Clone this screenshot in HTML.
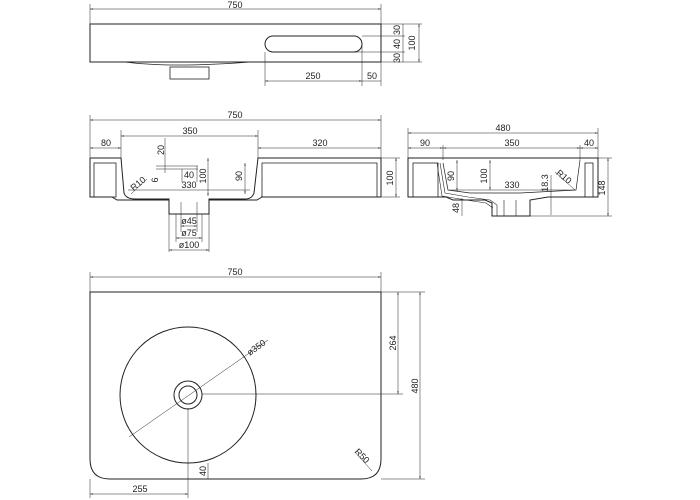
<!DOCTYPE html>
<html><head><style>body{margin:0;background:#fff}svg{display:block}</style></head><body>
<svg width="700" height="500" viewBox="0 0 700 500" xmlns="http://www.w3.org/2000/svg" font-family="Liberation Sans, sans-serif" font-size="9" fill="none" stroke="#222">
<defs><marker id="a" viewBox="0 0 10 10" refX="10" refY="5" markerWidth="6" markerHeight="6" orient="auto-start-reverse"><path d="M0,3L10,5L0,7" fill="#222" stroke="none"/></marker></defs>
<g stroke-width="0.5">
<!-- top view dims -->
<line x1="90" y1="4" x2="90" y2="24"/><line x1="381" y1="4" x2="381" y2="24"/>
<line x1="90" y1="9" x2="381" y2="9" marker-start="url(#a)" marker-end="url(#a)"/>
<line x1="265" y1="52" x2="265" y2="86"/><line x1="362" y1="45" x2="362" y2="86"/>
<line x1="265" y1="81" x2="362" y2="81" marker-start="url(#a)" marker-end="url(#a)"/>
<line x1="362" y1="81" x2="381" y2="81"/><line x1="381" y1="62" x2="381" y2="86"/>
<line x1="362" y1="36" x2="405" y2="36"/><line x1="340" y1="52" x2="405" y2="52"/>
<line x1="381" y1="24" x2="422" y2="24"/><line x1="381" y1="62" x2="422" y2="62"/>
<line x1="403" y1="24" x2="403" y2="62"/>
<line x1="419" y1="24" x2="419" y2="62" marker-start="url(#a)" marker-end="url(#a)"/>
</g>
<g fill="#222" stroke="none" text-anchor="middle">
<text x="235" y="8">750</text><text x="313" y="79">250</text><text x="372" y="79">50</text>
<text transform="translate(400,30) rotate(-90)">30</text>
<text transform="translate(400,44) rotate(-90)">40</text>
<text transform="translate(400,58) rotate(-90)">30</text>
<text transform="translate(415,43) rotate(-90)">100</text>
</g>
<rect x="90" y="24" width="291" height="38" stroke-width="1"/>
<rect x="265" y="36" width="97" height="16" rx="8" stroke-width="1"/>
<path d="M125,62 Q170,68 250,62" stroke-width="0.8"/>
<rect x="170" y="67" width="39" height="12" stroke-width="0.8"/>

<!-- front view -->
<g stroke-width="0.5">
<line x1="90" y1="115" x2="90" y2="158"/><line x1="381" y1="115" x2="381" y2="158"/>
<line x1="90" y1="120" x2="381" y2="120" marker-start="url(#a)" marker-end="url(#a)"/>
<line x1="121" y1="130" x2="121" y2="158"/><line x1="258" y1="130" x2="258" y2="158"/>
<line x1="121" y1="136" x2="258" y2="136" marker-start="url(#a)" marker-end="url(#a)"/>
<line x1="90" y1="148" x2="121" y2="148" marker-start="url(#a)" marker-end="url(#a)"/>
<line x1="258" y1="148" x2="381" y2="148" marker-start="url(#a)" marker-end="url(#a)"/>
<line x1="381" y1="158" x2="400" y2="158"/><line x1="381" y1="197" x2="400" y2="197"/>
<line x1="396" y1="158" x2="396" y2="197" marker-start="url(#a)" marker-end="url(#a)"/>
<line x1="208" y1="158" x2="208" y2="196" marker-start="url(#a)" marker-end="url(#a)"/>
<line x1="245" y1="163" x2="245" y2="194" marker-start="url(#a)" marker-end="url(#a)"/>
<line x1="165" y1="138" x2="165" y2="173"/><line x1="156" y1="166" x2="198" y2="166"/><line x1="156" y1="169" x2="198" y2="169"/>
<line x1="182" y1="169" x2="182" y2="182"/><line x1="197" y1="166" x2="197" y2="182"/>
<line x1="131" y1="194" x2="147" y2="179"/>
<line x1="128" y1="190" x2="250" y2="190"/>
<line x1="169" y1="202" x2="169" y2="252"/><line x1="209" y1="202" x2="209" y2="252"/>
<line x1="176" y1="214" x2="176" y2="242"/><line x1="202" y1="214" x2="202" y2="242"/>
<line x1="181" y1="202" x2="181" y2="232"/><line x1="197" y1="202" x2="197" y2="232"/>
<line x1="181" y1="226" x2="197" y2="226" marker-start="url(#a)" marker-end="url(#a)"/>
<line x1="176" y1="238" x2="202" y2="238" marker-start="url(#a)" marker-end="url(#a)"/>
<line x1="169" y1="250" x2="209" y2="250" marker-start="url(#a)" marker-end="url(#a)"/>
</g>
<g fill="#222" stroke="none" text-anchor="middle">
<text x="235" y="118">750</text><text x="190" y="134">350</text>
<text x="106" y="146">80</text><text x="320" y="146">320</text>
<text transform="translate(393,178) rotate(-90)">100</text>
<text transform="translate(206,176) rotate(-90)">100</text>
<text transform="translate(242,176) rotate(-90)">90</text>
<text transform="translate(164,150) rotate(-90)">20</text>
<text transform="translate(158,180) rotate(-90)">6</text>
<text x="189" y="178">40</text><text x="189" y="188">330</text>
<text transform="translate(140,186) rotate(-40)">R10</text>
<text x="189" y="224">ø45</text><text x="189" y="236">ø75</text><text x="189" y="248">ø100</text>
</g>
<g stroke-width="1">
<path d="M90,158 H121 L124,193 Q126,199 135,199 H169 V214 H209 V199 H245 Q252,199 254,193 L258,158 H381 V197 H381 M381,197 H262 L261,197"/>
<path d="M90,158 V197 H112"/>
<path d="M112,197 L117,200 H169 M209,200 H257 L262,197"/>
<rect x="94" y="163" width="22" height="34" stroke-width="0.8"/>
<path d="M262,197 V163 H377 V197" stroke-width="0.8"/>
</g>

<!-- side view -->
<g stroke-width="0.5">
<line x1="408" y1="128" x2="408" y2="158"/><line x1="598" y1="128" x2="598" y2="158"/>
<line x1="408" y1="133" x2="598" y2="133" marker-start="url(#a)" marker-end="url(#a)"/>
<line x1="443" y1="145" x2="443" y2="160"/><line x1="580" y1="145" x2="580" y2="160"/>
<line x1="408" y1="148" x2="443" y2="148" marker-start="url(#a)" marker-end="url(#a)"/>
<line x1="443" y1="148" x2="580" y2="148" marker-start="url(#a)" marker-end="url(#a)"/>
<line x1="580" y1="148" x2="598" y2="148" marker-start="url(#a)" marker-end="url(#a)"/>
<line x1="598" y1="158" x2="612" y2="158"/><line x1="492" y1="216" x2="612" y2="216"/>
<line x1="608" y1="158" x2="608" y2="216" marker-start="url(#a)" marker-end="url(#a)"/>
<line x1="457" y1="160" x2="457" y2="191" marker-start="url(#a)" marker-end="url(#a)"/>
<line x1="490" y1="160" x2="490" y2="190" marker-start="url(#a)" marker-end="url(#a)"/>
<line x1="450" y1="190" x2="575" y2="190"/>
<line x1="551" y1="175" x2="551" y2="215"/>
<line x1="555" y1="172" x2="575" y2="190"/>
<line x1="462" y1="198" x2="462" y2="216"/>
</g>
<g fill="#222" stroke="none" text-anchor="middle">
<text x="503" y="131">480</text><text x="425" y="146">90</text><text x="512" y="146">350</text><text x="589" y="146">40</text>
<text transform="translate(605,188) rotate(-90)">148</text>
<text transform="translate(454,176) rotate(-90)">90</text>
<text transform="translate(487,176) rotate(-90)">100</text>
<text transform="translate(548,183) rotate(-90)">18.3</text>
<text x="512" y="188">330</text>
<text transform="translate(562,179) rotate(40)">R10</text>
<text transform="translate(459,208) rotate(-90)">48</text>
</g>
<g stroke-width="1">
<path d="M408,158 H598 V197 H548 L530,200 V216 H492 V203 L485,200 H453 L446,197 H408 Z"/>
<rect x="413" y="163" width="25" height="34" stroke-width="0.8"/>
<rect x="585" y="163" width="8" height="34" stroke-width="0.8"/>
<path d="M443,163 L448,190 L470,193 H520 L576,190 L580,160" stroke-width="0.7"/>
<path d="M440,163 L445,193 L468,197 L490,200 L497,205 V216 M437,163 L442,196 L466,200 L486,203 L493,208" stroke-width="0.6"/>
<line x1="504" y1="200" x2="504" y2="216" stroke-width="0.6"/><line x1="516" y1="200" x2="516" y2="216" stroke-width="0.6"/>
</g>

<!-- plan view -->
<g stroke-width="0.5">
<line x1="90" y1="272" x2="90" y2="292"/><line x1="381" y1="272" x2="381" y2="292"/>
<line x1="90" y1="277" x2="381" y2="277" marker-start="url(#a)" marker-end="url(#a)"/>
<line x1="381" y1="292" x2="425" y2="292"/><line x1="381" y1="479" x2="425" y2="479"/>
<line x1="398" y1="292" x2="398" y2="394" marker-start="url(#a)" marker-end="url(#a)"/>
<line x1="420" y1="292" x2="420" y2="479" marker-start="url(#a)" marker-end="url(#a)"/>
<line x1="202" y1="394" x2="403" y2="394"/>
<line x1="188" y1="408" x2="188" y2="498"/>
<line x1="90" y1="479" x2="90" y2="498"/>
<line x1="90" y1="494" x2="188" y2="494" marker-start="url(#a)" marker-end="url(#a)"/>
<line x1="129" y1="437" x2="268" y2="340"/>
<line x1="208" y1="463" x2="208" y2="479"/>
<line x1="355" y1="452" x2="372" y2="471"/>
</g>
<g fill="#222" stroke="none" text-anchor="middle">
<text x="235" y="275">750</text>
<text transform="translate(396,343) rotate(-90)">264</text>
<text transform="translate(418,386) rotate(-90)">480</text>
<text x="140" y="492">255</text>
<text transform="translate(206,471) rotate(-90)">40</text>
<text transform="translate(258,350) rotate(-35)">ø350</text>
<text transform="translate(360,458) rotate(45)">R50</text>
</g>
<g stroke-width="1">
<path d="M90,292 H381 V459 Q381,479 361,479 H110 Q90,479 90,459 Z"/>
<circle cx="188" cy="395" r="68"/>
<circle cx="188" cy="395" r="14"/>
<circle cx="188" cy="395" r="9"/>
</g>
</svg>
</body></html>
